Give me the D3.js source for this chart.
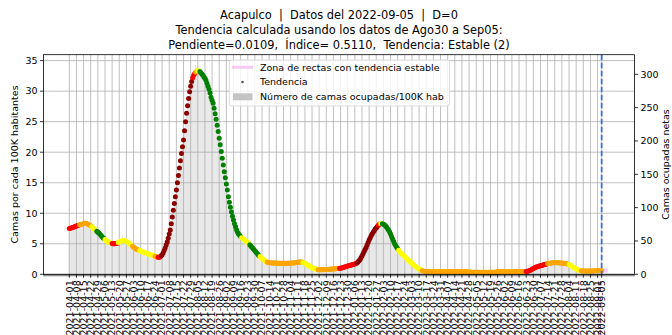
<!DOCTYPE html>
<html><head><meta charset="utf-8">
<script src="https://cdn.jsdelivr.net/npm/d3@7"></script>
<style>body{margin:0;background:#fff}svg{display:block;font-family:"DejaVu Sans",sans-serif}text{white-space:pre}</style>
</head><body><svg id="c" width="672" height="335"></svg>
<script>
const startDate = "2021-04-01";
const reportDate = "2022-09-05";
const titleLines = [
  "Acapulco  |  Datos del 2022-09-05  |  D=0",
  "Tendencia calculada usando los datos de Ago30 a Sep05:",
  "Pendiente=0.0109,  Índice= 0.5110,  Tendencia: Estable (2)"
];
const yLabelLeft = "Camas por cada 100K habitantes";
const yLabelRight = "Camas ocupadas netas";
const legendLabels = ["Zona de rectas con tendencia estable", "Tendencia", "Número de camas ocupadas/100K hab"];
const yTicksLeft = [0, 5, 10, 15, 20, 25, 30, 35];
const yTicksRight = [0, 50, 100, 150, 200, 250, 300];
const tickLabels = [
"2021-04-01","2021-04-08","2021-04-15","2021-04-22","2021-04-29","2021-05-06","2021-05-13","2021-05-20","2021-05-27","2021-06-03",
"2021-06-10","2021-06-17","2021-06-24","2021-07-01","2021-07-08","2021-07-15","2021-07-22","2021-07-29","2021-08-05","2021-08-12",
"2021-08-19","2021-08-26","2021-09-02","2021-09-09","2021-09-16","2021-09-23","2021-09-30","2021-10-07","2021-10-14","2021-10-21",
"2021-10-28","2021-11-04","2021-11-11","2021-11-18","2021-11-25","2021-12-02","2021-12-09","2021-12-16","2021-12-23","2021-12-30",
"2022-01-06","2022-01-13","2022-01-20","2022-01-27","2022-02-03","2022-02-10","2022-02-17","2022-02-24","2022-03-03","2022-03-10",
"2022-03-17","2022-03-24","2022-03-31","2022-04-07","2022-04-14","2022-04-21","2022-04-28","2022-05-05","2022-05-12","2022-05-19",
"2022-05-26","2022-06-02","2022-06-09","2022-06-16","2022-06-23","2022-06-30","2022-07-07","2022-07-14","2022-07-21","2022-07-28",
"2022-08-04","2022-08-11","2022-08-18","2022-08-25","2022-09-01","2022-09-05"
];
// daily trend value (camas/100K), from 2021-04-01
const trend = [
7.5,7.55,7.6,7.65,7.7,7.8,7.85,7.9,8.0,8.05,
8.1,8.15,8.2,8.25,8.3,8.35,8.35,8.3,8.25,8.15,
8.05,7.9,7.8,7.65,7.5,7.35,7.2,7.05,6.9,6.75,
6.6,6.4,6.2,6.0,5.85,5.7,5.55,5.4,5.3,5.2,
5.15,5.1,5.05,5.0,5.0,5.0,5.05,5.1,5.2,5.3,
5.4,5.45,5.5,5.5,5.5,5.45,5.4,5.3,5.2,5.05,
4.9,4.75,4.6,4.45,4.3,4.2,4.1,4.05,3.95,3.9,
3.85,3.75,3.7,3.6,3.55,3.5,3.45,3.4,3.3,3.25,
3.2,3.15,3.1,3.0,2.95,2.9,2.85,2.8,2.8,2.85,
3.0,3.2,3.5,3.9,4.3,4.8,5.3,5.9,6.6,7.25,
8.3,9.4,10.5,11.6,12.7,13.8,15.0,16.2,17.4,18.6,
19.8,20.9,22.0,23.5,25.0,26.4,27.6,28.8,29.9,30.8,
31.6,32.2,32.6,32.9,33.1,33.3,33.35,33.35,33.2,33.0,
32.8,32.6,32.3,32.1,31.8,31.3,30.8,30.3,29.7,29.0,
28.5,28.0,27.2,26.3,25.4,24.4,23.4,22.3,21.2,20.1,
19.0,17.9,16.8,15.8,14.8,13.8,12.7,11.8,11.0,10.2,
9.5,8.9,8.3,7.8,7.3,6.9,6.6,6.4,6.2,6.0,
5.9,5.75,5.6,5.5,5.35,5.2,5.0,4.85,4.65,4.45,
4.25,4.05,3.85,3.65,3.45,3.25,3.05,2.9,2.75,2.6,
2.45,2.3,2.2,2.1,2.0,1.95,1.9,1.9,1.85,1.85,
1.85,1.85,1.85,1.85,1.8,1.8,1.8,1.8,1.8,1.8,
1.8,1.8,1.8,1.8,1.8,1.8,1.8,1.85,1.85,1.85,
1.85,1.9,1.9,1.95,1.95,2.0,2.0,2.0,2.0,1.95,
1.9,1.8,1.7,1.6,1.5,1.4,1.3,1.2,1.1,1.0,
0.95,0.9,0.85,0.8,0.75,0.75,0.75,0.75,0.75,0.75,
0.75,0.8,0.8,0.8,0.8,0.8,0.85,0.85,0.85,0.85,
0.9,0.9,0.9,0.95,0.95,1.0,1.0,1.05,1.1,1.15,
1.2,1.25,1.3,1.35,1.4,1.45,1.5,1.55,1.6,1.65,
1.7,1.75,1.85,2.0,2.2,2.4,2.7,3.0,3.35,3.7,
4.05,4.4,4.8,5.2,5.6,5.95,6.3,6.6,6.9,7.15,
7.4,7.6,7.85,8.05,8.2,8.3,8.35,8.3,8.2,8.1,
7.95,7.75,7.5,7.25,6.95,6.6,6.2,5.8,5.4,5.0,
4.7,4.45,4.2,3.95,3.75,3.55,3.35,3.2,3.05,2.9,
2.75,2.6,2.4,2.25,2.1,1.95,1.8,1.65,1.5,1.35,
1.25,1.1,1.0,0.9,0.8,0.7,0.6,0.55,0.5,0.45,
0.45,0.45,0.4,0.4,0.4,0.4,0.4,0.4,0.4,0.4,
0.4,0.4,0.4,0.4,0.4,0.4,0.4,0.4,0.4,0.4,
0.4,0.4,0.4,0.4,0.4,0.4,0.4,0.4,0.4,0.4,
0.4,0.4,0.4,0.4,0.4,0.4,0.4,0.4,0.4,0.4,
0.4,0.4,0.4,0.35,0.35,0.35,0.35,0.35,0.35,0.35,
0.35,0.35,0.35,0.35,0.35,0.35,0.35,0.35,0.35,0.35,
0.35,0.35,0.35,0.35,0.35,0.35,0.35,0.35,0.35,0.4,
0.4,0.4,0.4,0.4,0.4,0.4,0.4,0.4,0.4,0.4,
0.4,0.4,0.4,0.4,0.4,0.4,0.4,0.4,0.4,0.4,
0.4,0.4,0.4,0.4,0.4,0.4,0.4,0.4,0.45,0.5,
0.55,0.6,0.65,0.75,0.85,0.95,1.05,1.15,1.2,1.25,
1.3,1.35,1.4,1.45,1.5,1.55,1.6,1.65,1.7,1.75,
1.8,1.8,1.85,1.85,1.9,1.9,1.9,1.9,1.9,1.9,
1.9,1.85,1.85,1.85,1.8,1.8,1.8,1.75,1.7,1.65,
1.6,1.5,1.4,1.3,1.2,1.1,1.0,0.9,0.8,0.7,
0.65,0.6,0.6,0.55,0.55,0.55,0.55,0.55,0.55,0.55,
0.55,0.55,0.55,0.55,0.55,0.6,0.6,0.6,0.6,0.6,
0.6,0.6,0.6
];
// daily occupied beds per 100K, from 2021-04-01
const bars = [
7.2,7.9,7.4,8.1,7.6,7.8,8.3,7.7,8.2,8.0,
8.4,7.9,8.3,8.6,8.1,8.5,8.2,8.6,7.9,8.3,
7.8,8.1,7.5,7.9,7.3,7.6,7.0,7.3,6.8,6.9,
6.4,6.7,6.0,6.3,5.7,6.0,5.4,5.6,5.2,5.4,
4.9,5.3,4.8,5.2,4.9,5.3,5.0,5.4,5.6,5.2,
5.8,5.3,6.3,5.4,5.7,5.2,5.6,5.0,5.3,4.9,
5.0,4.6,4.8,4.3,4.5,4.0,4.3,3.8,4.2,3.7,
4.0,3.6,3.9,3.4,3.7,3.3,3.6,3.2,3.5,3.1,
3.3,2.9,3.2,2.8,3.0,2.7,3.0,2.6,2.9,2.8,
3.2,3.1,3.7,3.6,4.5,4.4,5.5,5.6,6.8,7.0,
8.6,9.0,10.9,11.2,13.1,13.5,15.4,15.8,17.8,18.2,
20.3,20.6,22.5,23.1,25.4,26.0,28.0,28.5,30.3,30.6,
32.0,32.3,33.4,32.8,34.3,33.2,34.1,33.0,33.6,32.8,
33.2,32.3,32.8,31.8,32.2,31.0,31.3,30.0,30.2,28.7,
29.0,27.6,27.6,25.9,25.8,24.0,23.8,21.9,21.6,19.7,
19.4,17.4,17.2,15.4,15.2,13.4,13.1,11.5,11.3,9.9,
9.8,8.7,8.6,7.6,7.5,6.8,6.8,6.3,6.3,5.9,
6.0,5.6,5.8,5.4,5.5,5.1,5.2,4.8,4.8,4.4,
4.4,4.0,4.0,3.6,3.6,3.2,3.2,2.9,2.9,2.6,
2.6,2.3,2.3,2.1,2.1,2.0,1.9,2.0,1.8,1.9,
1.8,1.9,1.9,1.8,1.9,1.7,1.8,1.9,1.7,1.8,
1.9,1.7,1.8,1.9,1.8,1.7,1.9,1.8,1.9,1.8,
1.9,1.9,2.0,1.9,2.1,2.0,2.1,1.9,2.1,1.9,
2.0,1.8,1.8,1.6,1.6,1.4,1.4,1.2,1.2,1.0,
1.0,0.9,0.9,0.8,0.8,0.7,0.8,0.7,0.8,0.7,
0.8,0.8,0.8,0.8,0.9,0.8,0.9,0.8,0.9,0.8,
0.9,0.9,1.0,0.9,1.0,1.0,1.1,1.0,1.1,1.2,
1.2,1.3,1.3,1.4,1.4,1.5,1.5,1.6,1.6,1.7,
1.7,1.8,1.9,2.1,2.3,2.5,2.8,3.1,3.5,3.8,
4.2,4.5,4.9,5.4,5.8,6.1,6.5,6.8,7.1,7.3,
7.6,7.8,8.0,8.3,8.3,8.5,8.4,8.5,8.2,8.2,
7.9,7.8,7.4,7.2,6.8,6.5,6.0,5.7,5.2,4.9,
4.5,4.3,4.0,3.8,3.5,3.4,3.1,3.1,2.8,2.8,
2.5,2.5,2.2,2.2,1.9,1.9,1.6,1.6,1.4,1.3,
1.1,1.1,0.9,0.9,0.7,0.7,0.6,0.5,0.5,0.5,
0.5,0.4,0.4,0.5,0.4,0.3,0.4,0.5,0.4,0.4,
0.4,0.5,0.3,0.4,0.4,0.5,0.4,0.3,0.4,0.5,
0.4,0.4,0.5,0.3,0.4,0.4,0.5,0.4,0.4,0.3,
0.4,0.5,0.4,0.3,0.4,0.4,0.3,0.4,0.3,0.4,
0.3,0.4,0.3,0.3,0.4,0.3,0.4,0.3,0.4,0.3,
0.3,0.4,0.3,0.4,0.3,0.3,0.4,0.3,0.4,0.4,
0.4,0.3,0.4,0.5,0.4,0.4,0.3,0.4,0.5,0.4,
0.4,0.5,0.4,0.4,0.3,0.4,0.5,0.4,0.4,0.4,
0.5,0.4,0.4,0.5,0.4,0.4,0.5,0.4,0.4,0.5,
0.4,0.5,0.4,0.4,0.5,0.4,0.5,0.5,
0.5,0.5,0.6,0.7,0.7,0.8,0.9,1.0,1.1,1.2,
1.3,1.3,1.4,1.4,1.5,1.5,1.6,1.7,1.7,1.8,
1.9,2.0,2.7,1.9,2.3,2.0,2.2,1.9,2.1,1.8,
2.0,1.8,1.9,1.8,1.9,1.7,1.8,1.7,1.8,1.6,
1.6,1.5,1.5,1.4,1.3,1.2,1.1,1.0,0.9,0.8,
0.7,0.6,0.6,0.6,0.5,0.6,0.5,0.6,0.5,0.6,
0.5,0.6,0.5,0.6,0.5,0.6,0.6,0.5,0.6,0.6,0.7,0.6,0.6,0.6,0.6
];
// trend category runs: [first day index, day after last, category]
const trendSegments = [
[0,10,"sube"],[10,22,"sube_leve"],[22,27,"estable"],[27,35,"baja"],[35,42,"estable"],
[42,48,"sube"],[48,62,"estable"],[62,69,"sube_leve"],[69,84,"estable"],[84,87,"sube_leve"],
[87,90,"sube"],[90,121,"sube_fuerte"],[121,124,"sube"],[124,126,"sube_leve"],[126,128,"estable"],
[128,169,"baja"],[169,177,"estable"],[177,187,"baja"],[187,194,"estable"],[194,229,"sube_leve"],
[229,244,"estable"],[244,265,"sube_leve"],[265,282,"sube"],[282,303,"sube_fuerte"],[303,305,"sube"],
[305,306,"sube_leve"],[306,307,"estable"],[307,323,"baja"],[323,346,"estable"],[346,448,"sube_leve"],
[448,469,"sube"],[469,490,"sube_leve"],[490,502,"estable"],[502,523,"sube_leve"]
];
const stableZoneDates = ["2022-08-31", "2022-09-11"];
const stableZoneValue = 0.6;

const catColor = {sube_fuerte:"#8b0000", sube:"#ff0000", sube_leve:"#ffa500", estable:"#ffff00", baja:"#008000"};

const W = 672, H = 335;
const L = 43.5, R = 634.5, T = 54.7, B = 274.3;
const parse = d3.utcParse("%Y-%m-%d");
const t0 = parse(startDate);
const dayOff = d => d3.utcHour.offset(t0, Math.round(d * 24));
const x = d3.scaleUtc().domain([dayOff(-25.3), dayOff(554.2)]).range([L, R]);
const y = d3.scaleLinear().domain([0, 35.97]).range([B, T]);
const y2 = d3.scaleLinear().domain([0, 329.4]).range([B, T]);
const dates = trend.map((_, i) => d3.utcDay.offset(t0, i));
const barDates = bars.map((_, i) => d3.utcDay.offset(t0, i));
const catOf = i => { const s = trendSegments.find(s => i >= s[0] && i < s[1]); return s ? s[2] : "sube_leve"; };

const svg = d3.select("#c");
svg.append("rect").attr("width", W).attr("height", H).attr("fill", "#fff");

// bars
const dayW = x(dayOff(1)) - x(dayOff(0));
svg.append("g").selectAll("rect").data(bars).join("rect")
  .attr("x", (d, i) => x(barDates[i]) - dayW * 0.37)
  .attr("width", dayW * 0.74)
  .attr("y", d => y(d)).attr("height", d => B - y(d))
  .attr("fill", "#c4c4c4").attr("opacity", 0.55);

// grid
const tickDates = tickLabels.map(parse);
const grid = svg.append("g").attr("stroke", "#b0b0b0").attr("stroke-width", 0.8);
grid.selectAll("line.v").data(tickDates).join("line").attr("class", "v")
  .attr("x1", d => x(d)).attr("x2", d => x(d)).attr("y1", T).attr("y2", B);
grid.selectAll("line.h").data(yTicksLeft).join("line").attr("class", "h")
  .attr("x1", L).attr("x2", R).attr("y1", d => y(d)).attr("y2", d => y(d));

// stable zone
svg.append("line")
  .attr("x1", x(parse(stableZoneDates[0]))).attr("x2", x(parse(stableZoneDates[1])))
  .attr("y1", y(stableZoneValue)).attr("y2", y(stableZoneValue))
  .attr("stroke", "#f7b6f0").attr("stroke-width", 4).attr("opacity", 0.7);

// trend dots
svg.append("g").selectAll("circle").data(trend).join("circle")
  .attr("cx", (d, i) => x(dates[i])).attr("cy", d => y(d)).attr("r", 2.5)
  .attr("fill", (d, i) => catColor[catOf(i)]);

// report date line
svg.append("line").attr("x1", x(parse(reportDate))).attr("x2", x(parse(reportDate)))
  .attr("y1", T).attr("y2", B).attr("stroke", "#3f6fe0").attr("stroke-width", 1.8)
  .attr("stroke-dasharray", "5.5,2.5");

// spines
svg.append("rect").attr("x", L).attr("y", T).attr("width", R - L).attr("height", B - T)
  .attr("fill", "none").attr("stroke", "#000").attr("stroke-width", 0.8);

// x minor ticks (daily)
const minor = d3.utcDay.range(d3.utcDay.ceil(x.domain()[0]), x.domain()[1]);
svg.append("g").attr("stroke", "#000").attr("stroke-width", 0.5).selectAll("line").data(minor).join("line")
  .attr("x1", d => x(d)).attr("x2", d => x(d)).attr("y1", B).attr("y2", B + 2);
// x major ticks & labels
const xt = svg.append("g");
xt.selectAll("line").data(tickDates).join("line")
  .attr("x1", d => x(d)).attr("x2", d => x(d)).attr("y1", B).attr("y2", B + 3.5)
  .attr("stroke", "#000").attr("stroke-width", 0.8);
xt.selectAll("text").data(tickLabels).join("text")
  .attr("transform", (d, i) => `translate(${x(tickDates[i])},${B + 6}) rotate(-90)`)
  .attr("text-anchor", "end").attr("dy", "0.35em").attr("font-size", 9.5).attr("fill", "#000").text(d => d);

// y left
const yl = svg.append("g");
yl.selectAll("line").data(yTicksLeft).join("line")
  .attr("x1", L - 3.5).attr("x2", L).attr("y1", d => y(d)).attr("y2", d => y(d)).attr("stroke", "#000").attr("stroke-width", 0.8);
yl.selectAll("text").data(yTicksLeft).join("text")
  .attr("x", L - 6).attr("y", d => y(d)).attr("dy", "0.35em").attr("text-anchor", "end").attr("font-size", 9.5).text(d => d);
// y right
const yr = svg.append("g");
yr.selectAll("line").data(yTicksRight).join("line")
  .attr("x1", R).attr("x2", R + 3.5).attr("y1", d => y2(d)).attr("y2", d => y2(d)).attr("stroke", "#000").attr("stroke-width", 0.8);
yr.selectAll("text").data(yTicksRight).join("text")
  .attr("x", R + 6).attr("y", d => y2(d)).attr("dy", "0.35em").attr("text-anchor", "start").attr("font-size", 9.5).text(d => d);

svg.append("text").attr("transform", `translate(15,${(T + B) / 2}) rotate(-90)`)
  .attr("text-anchor", "middle").attr("dy", "0.35em").attr("font-size", 9.5).text(yLabelLeft);
svg.append("text").attr("transform", `translate(666,${(T + B) / 2}) rotate(-90)`)
  .attr("text-anchor", "middle").attr("dy", "0.35em").attr("font-size", 9.5).text(yLabelRight);

// title
svg.append("g").selectAll("text").data(titleLines).join("text")
  .attr("x", (L + R) / 2).attr("y", (d, i) => 15 + i * 15).attr("dy", "0.35em")
  .attr("text-anchor", "middle").attr("font-size", 11.4).text(d => d);

// legend
const lg = svg.append("g");
lg.append("rect").attr("x", 229.5).attr("y", 60).attr("width", 220).attr("height", 46).attr("rx", 2.5)
  .attr("fill", "#fff").attr("fill-opacity", 0.8).attr("stroke", "#d6d6d6").attr("stroke-width", 0.8);
lg.append("line").attr("x1", 232).attr("x2", 253).attr("y1", 67.3).attr("y2", 67.3)
  .attr("stroke", "#f7b6f0").attr("stroke-width", 3).attr("opacity", 0.7);
lg.append("circle").attr("cx", 242.5).attr("cy", 82).attr("r", 1.3).attr("fill", "#555");
lg.append("rect").attr("x", 233).attr("y", 93.3).attr("width", 19.5).attr("height", 7).attr("fill", "#c4c4c4");
lg.selectAll("text").data(legendLabels).join("text")
  .attr("x", 260).attr("y", (d, i) => 67.3 + i * 14.7).attr("dy", "0.35em").attr("font-size", 9.5).text(d => d);
</script></body></html>
